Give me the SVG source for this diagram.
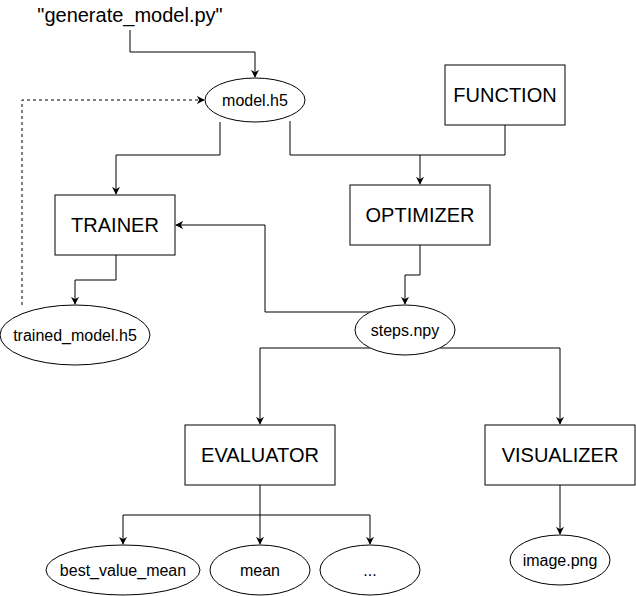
<svg xmlns="http://www.w3.org/2000/svg" width="636" height="596" viewBox="0 0 636 596">
<style>
.box{fill:#fff;stroke:#000;stroke-width:1}
.ell{fill:#fff;stroke:#000;stroke-width:1}
.lbl{font-family:"Liberation Sans",Arial,sans-serif;font-size:20px;fill:#000;text-anchor:middle;dominant-baseline:central}
.sm{font-family:"Liberation Sans",Arial,sans-serif;font-size:16px;fill:#000;text-anchor:middle;dominant-baseline:central}
.edge{fill:none;stroke:#000;stroke-width:1;marker-end:url(#arr)}
.plain{fill:none;stroke:#000;stroke-width:1}
.dash{stroke-dasharray:3 3}
</style>
<defs>
<marker id="arr" viewBox="0 0 10 10" refX="9" refY="5" markerWidth="8" markerHeight="8" markerUnits="userSpaceOnUse" orient="auto">
<path d="M0,0 L10,5 L0,10 L3,5 Z" fill="#000"/>
</marker>
</defs>
<rect width="636" height="596" fill="#fff"/>
<g id="connectors">
<path class="edge" d="M130,30 V52 H255 V77"/>
<path class="edge dash" d="M22,305 V100 H204"/>
<path class="edge" d="M220,122 V155 H116 V194"/>
<path class="edge" d="M290,121 V155 H420 V184"/>
<path class="plain" d="M505,125 V155 H420"/>
<path class="edge" d="M116,255 V280 H75 V304"/>
<path class="edge" d="M420,245 V275 H405 V304"/>
<path class="edge" d="M372,312 H265 V225 H176"/>
<path class="edge" d="M370,348 H260 V424"/>
<path class="edge" d="M440,348 H560 V424"/>
<path class="edge" d="M260,485 V515 H123 V544"/>
<path class="edge" d="M260,515 V544"/>
<path class="edge" d="M260,515 H370 V544"/>
<path class="edge" d="M560,485 V534"/>
</g>
<g id="generate_model"><text x="130" y="15" class="lbl">"generate_model.py"</text></g>
<g id="model_h5"><ellipse class="ell" cx="255" cy="100" rx="50" ry="22"/><text x="255" y="100" class="sm">model.h5</text></g>
<g id="function"><rect class="box" x="445" y="65" width="120" height="60"/><text x="505" y="95" class="lbl">FUNCTION</text></g>
<g id="trainer"><rect class="box" x="55" y="195" width="120" height="60"/><text x="115" y="225" class="lbl">TRAINER</text></g>
<g id="optimizer"><rect class="box" x="350" y="185" width="140" height="60"/><text x="420" y="215" class="lbl">OPTIMIZER</text></g>
<g id="trained_model"><ellipse class="ell" cx="75" cy="335" rx="75" ry="30"/><text x="75" y="335" class="sm">trained_model.h5</text></g>
<g id="steps"><ellipse class="ell" cx="405" cy="330" rx="50" ry="25"/><text x="405" y="330" class="sm">steps.npy</text></g>
<g id="evaluator"><rect class="box" x="185" y="425" width="150" height="60"/><text x="260" y="455" class="lbl">EVALUATOR</text></g>
<g id="visualizer"><rect class="box" x="485" y="425" width="150" height="60"/><text x="560" y="455" class="lbl">VISUALIZER</text></g>
<g id="best_value_mean"><ellipse class="ell" cx="123" cy="570" rx="77" ry="25"/><text x="123" y="570" class="sm">best_value_mean</text></g>
<g id="mean"><ellipse class="ell" cx="260" cy="570" rx="50" ry="25"/><text x="260" y="570" class="sm">mean</text></g>
<g id="etc"><ellipse class="ell" cx="370" cy="570" rx="50" ry="25"/><text x="370" y="570" class="sm">...</text></g>
<g id="image_png"><ellipse class="ell" cx="560" cy="560" rx="50" ry="25"/><text x="560" y="560" class="sm">image.png</text></g>
</svg>
